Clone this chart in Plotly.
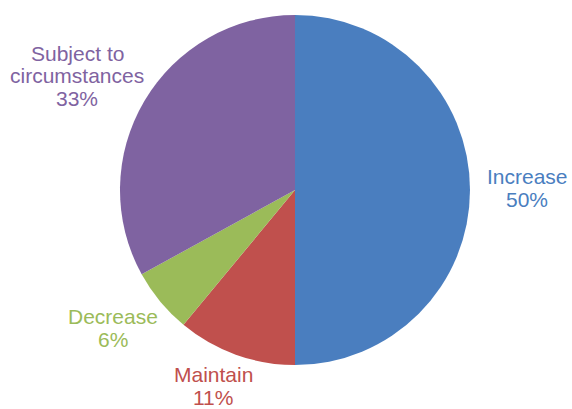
import plotly.graph_objects as go

labels = ["Increase", "Maintain", "Decrease", "Subject to circumstances"]
label_lines = [["Increase"], ["Maintain"], ["Decrease"], ["Subject to", "circumstances"]]
values = [50, 11, 6, 33]
colors = ["#4A7EBF", "#C0504D", "#9BBB59", "#7F63A1"]

W, H = 572, 409
cx, cy, r = 295, 190, 175

# label block centers (pixels, from top-left) and line spacing
label_pos = [(527, 188), (213, 386), (113, 328), (77, 76)]
line_gap = 22.5

fig = go.Figure(go.Pie(
    labels=labels,
    values=values,
    sort=False,
    direction="clockwise",
    rotation=0,
    marker=dict(colors=colors, line=dict(width=0)),
    textinfo="none",
    hoverinfo="label+percent",
    showlegend=False,
    domain=dict(x=[(cx - r) / W, (cx + r) / W], y=[(H - cy - r) / H, (H - cy + r) / H]),
))

total = sum(values)
font_family = "Liberation Sans, Arial, Helvetica, sans-serif"
for lines, v, col, (px, py) in zip(label_lines, values, colors, label_pos):
    all_lines = lines + [f"{round(100 * v / total)}%"]
    n = len(all_lines)
    for i, t in enumerate(all_lines):
        y = py + (i - (n - 1) / 2) * line_gap
        fig.add_annotation(
            x=px / W, y=1 - y / H, xref="paper", yref="paper",
            text=t, showarrow=False, xanchor="center", yanchor="middle",
            font=dict(family=font_family, size=21, color=col),
        )

fig.update_layout(
    width=W, height=H,
    margin=dict(l=0, r=0, t=0, b=0),
    paper_bgcolor="white",
    plot_bgcolor="white",
)

fig.write_html(
    "out.html",
    config={"displayModeBar": False},
    post_script="document.body.style.margin='0';document.body.style.overflow='hidden';",
)
